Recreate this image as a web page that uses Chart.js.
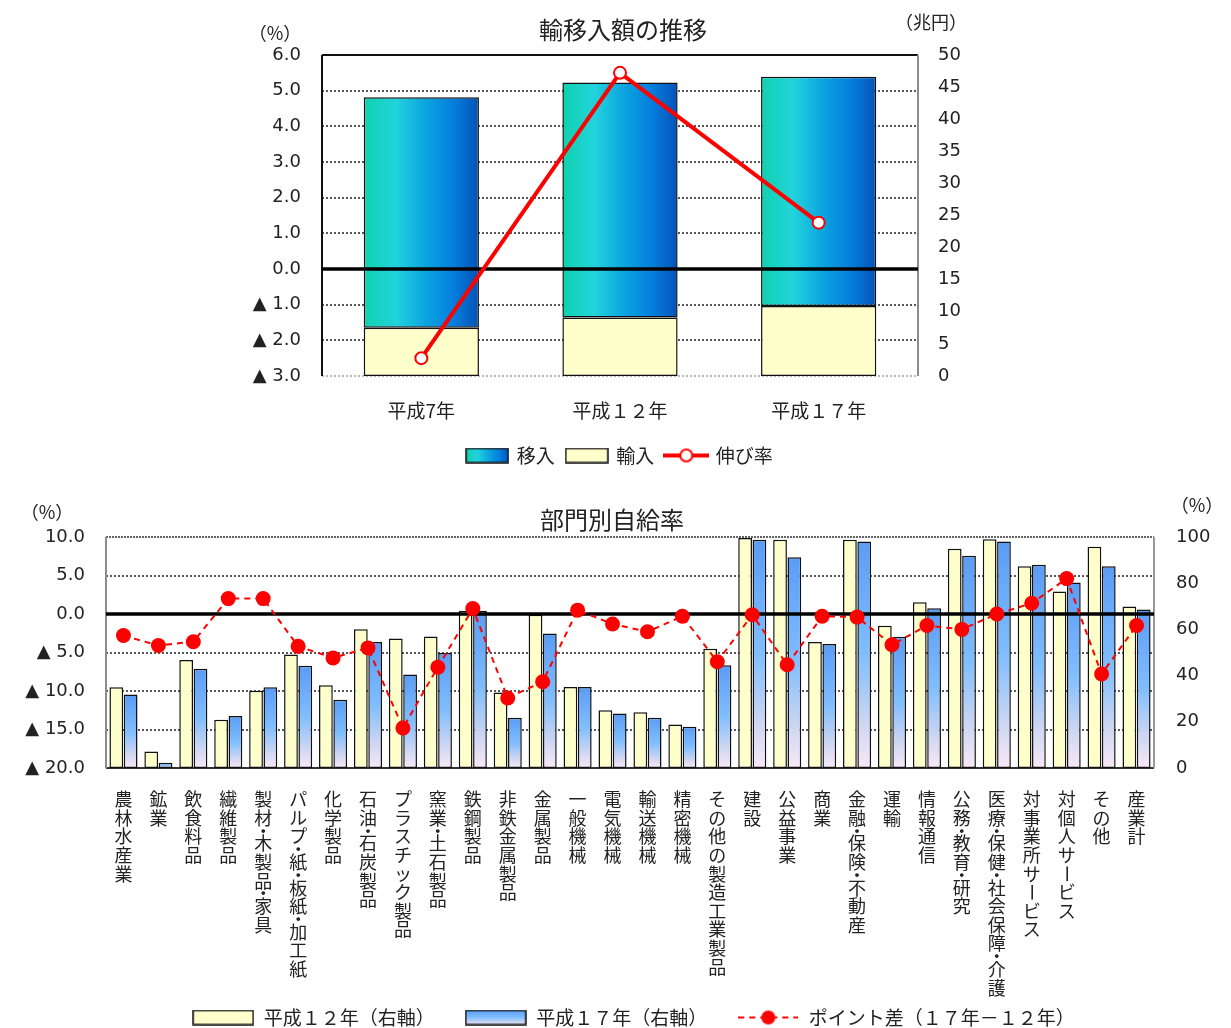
<!DOCTYPE html>
<html lang="ja">
<head>
<meta charset="UTF-8">
<title>輸移入額の推移・部門別自給率</title>
<style>
  html, body { margin: 0; padding: 0; background: #fff; overflow: hidden; }
  body { width: 1231px; height: 1028px; position: relative; }
  .box { position: absolute; }
  #topBox { left: 230px; top: 0; width: 780px; height: 480px; }
  /* wider than the window so the legend centre lines up; the overflow is hidden */
  #bottomBox { left: 0; top: 495px; width: 1267px; height: 545px; }
</style>
</head>
<body>
<div class="box" id="topBox"><canvas id="trendChart"></canvas></div>
<div class="box" id="bottomBox"><canvas id="ratioChart"></canvas></div>

<script src="https://cdn.jsdelivr.net/npm/chart.js"></script>
<script>
// --- 輸移入額の推移 ---
const yearLabels = ['平成7年', '平成１２年', '平成１７年'];
const inflow = [35.9, 36.6, 35.7];     // 移入 (兆円, 右軸)
const imports = [7.5, 9.1, 10.9];      // 輸入 (兆円, 右軸)
const growthRate = [-2.5, 5.5, 1.3];   // 伸び率 (%, 左軸)

// --- 部門別自給率 ---
const sectors = ['農林水産業', '鉱業', '飲食料品', '繊維製品', '製材・木製品・家具',
  'パルプ・紙・板紙・加工紙', '化学製品', '石油・石炭製品', 'プラスチック製品', '窯業・土石製品',
  '鉄鋼製品', '非鉄金属製品', '金属製品', '一般機械', '電気機械', '輸送機械', '精密機械',
  'その他の製造工業製品', '建設', '公益事業', '商業', '金融・保険・不動産', '運輸', '情報通信',
  '公務・教育・研究', '医療・保健・社会保障・介護', '対事業所サービス', '対個人サービス', 'その他', '産業計'];
const ratioH12 = [35.0, 7.1, 46.7, 20.9, 33.4, 49.1, 35.8, 60.1, 56.1, 56.9, 68.1, 32.7, 66.3, 35.1, 25.0,
  24.1, 18.8, 51.6, 99.6, 98.8, 54.5, 98.8, 61.6, 71.7, 94.9, 99.0, 87.3, 76.4, 95.8, 69.9];
const ratioH17 = [31.8, 2.3, 43.0, 22.5, 35.0, 44.3, 29.5, 54.5, 40.5, 49.8, 68.1, 21.7, 58.2, 35.1, 23.6,
  21.7, 17.9, 44.5, 98.8, 91.2, 53.7, 98.1, 56.8, 69.2, 91.9, 98.1, 88.0, 80.3, 87.3, 68.6];
const pointDiff = [-2.8, -4.1, -3.6, 2.0, 2.0, -4.2, -5.7, -4.4, -14.8, -6.9, 0.7, -10.9, -8.8, 0.5, -1.3,
  -2.3, -0.3, -6.2, -0.1, -6.6, -0.3, -0.4, -4.0, -1.5, -2.0, 0.0, 1.4, 4.6, -7.8, -1.5];

const JP = '"Noto Sans CJK JP", "Noto Sans", sans-serif';
const NUM = '"DejaVu Sans", "Noto Sans", sans-serif';
const TEXT = '#222';

function fmtPct(v) {
  return v < 0 ? '▲ ' + Math.abs(v).toFixed(1) : v.toFixed(1);
}

// small canvases used as legend symbols
function legendImage(w, h, draw) {
  const c = document.createElement('canvas');
  c.width = w; c.height = h;
  draw(c.getContext('2d'), w, h);
  return c;
}

function inflowStops(g) {
  g.addColorStop(0, '#0fd2ae');
  g.addColorStop(0.28, '#22d3dc');
  g.addColorStop(0.55, '#0aa2e0');
  g.addColorStop(0.78, '#047edd');
  g.addColorStop(1, '#0552b6');
  return g;
}
function blueStops(g) {
  g.addColorStop(0, '#5a9cf6');
  g.addColorStop(0.5, '#80befe');
  g.addColorStop(0.8, '#cdd6f2');
  g.addColorStop(1, '#f9e8f6');
  return g;
}

// 移入: 横方向グラデーション
function inflowFill(c) {
  const chart = c.chart;
  if (c.type !== 'data' || !chart.chartArea) return '#14b4dc';
  const xs = chart.scales.x;
  const cx = xs.getPixelForValue(c.dataIndex);
  const half = (xs.width / yearLabels.length) * 0.58 / 2;
  return inflowStops(chart.ctx.createLinearGradient(cx - half, 0, cx + half, 0));
}
// 平成17年: 縦方向グラデーション
function blueFill(c) {
  const chart = c.chart;
  if (c.type !== 'data' || !chart.chartArea) return '#6aaaf8';
  const ys = chart.scales.y1;
  const top = ys.getPixelForValue(c.raw);
  const bottom = ys.getPixelForValue(0);
  return blueStops(chart.ctx.createLinearGradient(0, top, 0, bottom));
}

// grid, frame, zero line, titles, vertical category labels
const decorPlugin = {
  id: 'decor',
  beforeDatasetsDraw(chart, args, opts) {
    const { ctx, chartArea: a } = chart;
    const ys = chart.scales.y;
    ctx.save();
    ctx.strokeStyle = '#222';
    ctx.lineWidth = 1.5;
    ctx.setLineDash([2, 2]);
    opts.dotted.forEach(v => {
      const py = Math.round(ys.getPixelForValue(v));
      ctx.beginPath(); ctx.moveTo(a.left, py); ctx.lineTo(a.right, py); ctx.stroke();
    });
    const f = opts.frame;
    const edge = (s, x1, y1, x2, y2) => {
      ctx.strokeStyle = s[0]; ctx.lineWidth = s[1]; ctx.setLineDash(s[2]);
      ctx.beginPath(); ctx.moveTo(x1, y1); ctx.lineTo(x2, y2); ctx.stroke();
    };
    edge(f.top, a.left, a.top, a.right, a.top);
    edge(f.bottom, a.left, a.bottom, a.right, a.bottom);
    edge(f.left, a.left, a.top, a.left, a.bottom);
    edge(f.right, a.right, a.top, a.right, a.bottom);
    ctx.restore();
  },
  beforeDatasetDraw(chart, args) {
    if (args.meta.type !== 'line') return;
    const { ctx, chartArea: a } = chart;
    const py = chart.scales.y.getPixelForValue(0);
    ctx.save();
    ctx.strokeStyle = '#000';
    ctx.lineWidth = 3.5;
    ctx.beginPath(); ctx.moveTo(a.left, py); ctx.lineTo(a.right, py); ctx.stroke();
    ctx.restore();
  },
  afterDraw(chart, args, opts) {
    const { ctx, chartArea: a } = chart;
    ctx.save();
    ctx.fillStyle = TEXT;
    ctx.textAlign = 'center';
    ctx.textBaseline = 'middle';
    opts.texts.forEach(t => {
      ctx.font = t.size + 'px ' + JP;
      ctx.fillText(t.text, t.x, t.y);
    });
    if (opts.vertical) {
      const xs = chart.scales.x;
      ctx.font = '18px ' + JP;
      chart.data.labels.forEach((name, i) => {
        const x = xs.getPixelForValue(i);
        let y = a.bottom + 22;
        for (const ch of name) {
          if (ch === '・') {
            ctx.fillText(ch, x, y + 3.5);
            y += 7;
            continue;
          }
          if (ch === 'ー') {
            ctx.save();
            ctx.translate(x, y + 9.3);
            ctx.rotate(Math.PI / 2);
            ctx.fillText(ch, 0, 0);
            ctx.restore();
          } else {
            ctx.fillText(ch, x, y + 9.3);
          }
          y += 18.6;
        }
      });
    }
    ctx.restore();
  }
};

// ===== 上: 輸移入額の推移 =====
const inflowIcon = legendImage(44, 16, (g, w, h) => {
  g.fillStyle = inflowStops(g.createLinearGradient(0, 0, w, 0));
  g.fillRect(1, 1, w - 2, h - 2);
  g.strokeStyle = '#111'; g.lineWidth = 1.5; g.strokeRect(1, 1, w - 2, h - 2);
});
const importIcon = legendImage(44, 16, (g, w, h) => {
  g.fillStyle = '#ffffcc'; g.fillRect(1, 1, w - 2, h - 2);
  g.strokeStyle = '#111'; g.lineWidth = 1.5; g.strokeRect(1, 1, w - 2, h - 2);
});
const growthIcon = legendImage(46, 16, (g, w, h) => {
  g.strokeStyle = '#ff0000'; g.lineWidth = 4;
  g.beginPath(); g.moveTo(0, h / 2); g.lineTo(w, h / 2); g.stroke();
  g.fillStyle = '#fff'; g.lineWidth = 2;
  g.beginPath(); g.arc(w / 2, h / 2, 6, 0, Math.PI * 2); g.fill(); g.stroke();
});

new Chart(document.getElementById('trendChart'), {
  type: 'bar',
  data: {
    labels: yearLabels,
    datasets: [
      {
        label: '伸び率', type: 'line', data: growthRate, yAxisID: 'y', order: 0,
        borderColor: '#ff0000', borderWidth: 4, tension: 0,
        pointRadius: 6, pointBackgroundColor: '#fff', pointBorderColor: '#ff0000', pointBorderWidth: 2
      },
      {
        label: '輸入', data: imports, yAxisID: 'y1', stack: 'amt', order: 1,
        backgroundColor: '#ffffcc', borderColor: '#111', borderWidth: 1.5, borderSkipped: false,
        categoryPercentage: 1, barPercentage: 0.58
      },
      {
        label: '移入', data: inflow, yAxisID: 'y1', stack: 'amt', order: 1,
        backgroundColor: inflowFill, borderColor: '#111', borderWidth: 1.5, borderSkipped: false,
        categoryPercentage: 1, barPercentage: 0.58
      }
    ]
  },
  options: {
    responsive: true,
    maintainAspectRatio: false,
    animation: false,
    events: [],
    layout: { padding: { top: 55, left: 0, right: 0, bottom: 5 } },
    scales: {
      x: {
        stacked: true,
        grid: { display: false, drawTicks: false },
        border: { display: false },
        ticks: { color: TEXT, font: { family: JP, size: 19 }, padding: 23 },
        afterFit: s => { s.height = 58; }
      },
      y: {
        position: 'left', min: -3, max: 6,
        grid: { display: false, drawTicks: false },
        border: { display: false },
        ticks: { stepSize: 1, callback: fmtPct, color: TEXT, font: { family: NUM, size: 18 }, padding: 21 },
        afterFit: s => { s.width = 92; }
      },
      y1: {
        position: 'right', min: 0, max: 50, stacked: true,
        grid: { display: false, drawTicks: false },
        border: { display: false },
        ticks: { stepSize: 5, color: TEXT, font: { family: NUM, size: 18 }, padding: 20 },
        afterFit: s => { s.width = 92; }
      }
    },
    plugins: {
      title: { display: false },
      tooltip: { enabled: false },
      legend: {
        position: 'bottom',
        labels: {
          usePointStyle: true, pointStyleWidth: 40, padding: 12,
          color: TEXT, font: { family: JP, size: 19 },
          generateLabels: () => [
            { text: '移入', pointStyle: inflowIcon, datasetIndex: 2, fontColor: TEXT, lineWidth: 0 },
            { text: '輸入', pointStyle: importIcon, datasetIndex: 1, fontColor: TEXT, lineWidth: 0 },
            { text: '伸び率', pointStyle: growthIcon, datasetIndex: 0, fontColor: TEXT, lineWidth: 0 }
          ]
        }
      },
      decor: {
        dotted: [5, 4, 3, 2, 1, -1, -2],
        frame: {
          top: ['#111', 2, []], left: ['#111', 2, []],
          right: ['#8c8c8c', 2, []], bottom: ['#777', 1, [2, 2]]
        },
        texts: [
          { text: '輸移入額の推移', x: 393, y: 30, size: 24 },
          { text: '（%）', x: 45, y: 33, size: 18 },
          { text: '（兆円）', x: 701, y: 22, size: 18 }
        ]
      }
    }
  },
  plugins: [decorPlugin]
});

// ===== 下: 部門別自給率 =====
const h12Icon = legendImage(62, 16, (g, w, h) => {
  g.fillStyle = '#ffffcc'; g.fillRect(1, 1, w - 2, h - 2);
  g.strokeStyle = '#111'; g.lineWidth = 1.5; g.strokeRect(1, 1, w - 2, h - 2);
});
const h17Icon = legendImage(62, 16, (g, w, h) => {
  g.fillStyle = blueStops(g.createLinearGradient(0, 0, 0, h));
  g.fillRect(1, 1, w - 2, h - 2);
  g.strokeStyle = '#111'; g.lineWidth = 1.5; g.strokeRect(1, 1, w - 2, h - 2);
});
const diffIcon = legendImage(60, 16, (g, w, h) => {
  g.strokeStyle = '#ff0000'; g.lineWidth = 2; g.setLineDash([6, 5]);
  g.beginPath(); g.moveTo(0, h / 2); g.lineTo(w, h / 2); g.stroke();
  g.fillStyle = '#ff0000';
  g.beginPath(); g.arc(w / 2, h / 2, 7, 0, Math.PI * 2); g.fill();
});

new Chart(document.getElementById('ratioChart'), {
  type: 'bar',
  data: {
    labels: sectors,
    datasets: [
      {
        label: 'ポイント差（１７年－１２年）', type: 'line', data: pointDiff, yAxisID: 'y', order: 0,
        borderColor: '#ff0000', borderWidth: 2, borderDash: [6, 5], tension: 0,
        pointRadius: 7.5, pointBackgroundColor: '#ff0000', pointBorderWidth: 0
      },
      {
        label: '平成１２年（右軸）', data: ratioH12, yAxisID: 'y1', order: 1,
        backgroundColor: '#ffffcc', borderColor: '#111', borderWidth: 1.5, borderSkipped: false,
        categoryPercentage: 0.82, barPercentage: 0.96
      },
      {
        label: '平成１７年（右軸）', data: ratioH17, yAxisID: 'y1', order: 1,
        backgroundColor: blueFill, borderColor: '#111', borderWidth: 1.5, borderSkipped: false,
        categoryPercentage: 0.82, barPercentage: 0.96
      }
    ]
  },
  options: {
    responsive: true,
    maintainAspectRatio: false,
    animation: false,
    events: [],
    layout: { padding: { top: 42, left: 0, right: 0, bottom: 3 } },
    scales: {
      x: {
        grid: { display: false, drawTicks: false },
        border: { display: false },
        ticks: { display: false },
        afterFit: s => { s.height = 210; }
      },
      y: {
        position: 'left', min: -20, max: 10,
        grid: { display: false, drawTicks: false },
        border: { display: false },
        ticks: { stepSize: 5, callback: fmtPct, color: TEXT, font: { family: NUM, size: 18 }, padding: 21 },
        afterFit: s => { s.width = 106; }
      },
      y1: {
        position: 'right', min: 0, max: 100,
        grid: { display: false, drawTicks: false },
        border: { display: false },
        ticks: { stepSize: 20, color: TEXT, font: { family: NUM, size: 18 }, padding: 22 },
        afterFit: s => { s.width = 113; }
      }
    },
    plugins: {
      title: { display: false },
      tooltip: { enabled: false },
      legend: {
        position: 'bottom',
        labels: {
          usePointStyle: true, pointStyleWidth: 62, padding: 30,
          color: TEXT, font: { family: JP, size: 19 },
          generateLabels: () => [
            { text: '平成１２年（右軸）', pointStyle: h12Icon, datasetIndex: 1, fontColor: TEXT, lineWidth: 0 },
            { text: '平成１７年（右軸）', pointStyle: h17Icon, datasetIndex: 2, fontColor: TEXT, lineWidth: 0 },
            { text: 'ポイント差（１７年－１２年）', pointStyle: diffIcon, datasetIndex: 0, fontColor: TEXT, lineWidth: 0 }
          ]
        }
      },
      decor: {
        dotted: [5, -5, -10, -15],
        frame: {
          top: ['#333', 1.5, [2, 1]], left: ['#8c8c8c', 2, []],
          right: ['#9a9a9a', 2, []], bottom: ['#333', 2, []]
        },
        vertical: true,
        texts: [
          { text: '部門別自給率', x: 612, y: 25, size: 24 },
          { text: '（%）', x: 47, y: 17, size: 18 },
          { text: '（%）', x: 1197, y: 10, size: 18 }
        ]
      }
    }
  },
  plugins: [decorPlugin]
});
</script>
</body>
</html>
